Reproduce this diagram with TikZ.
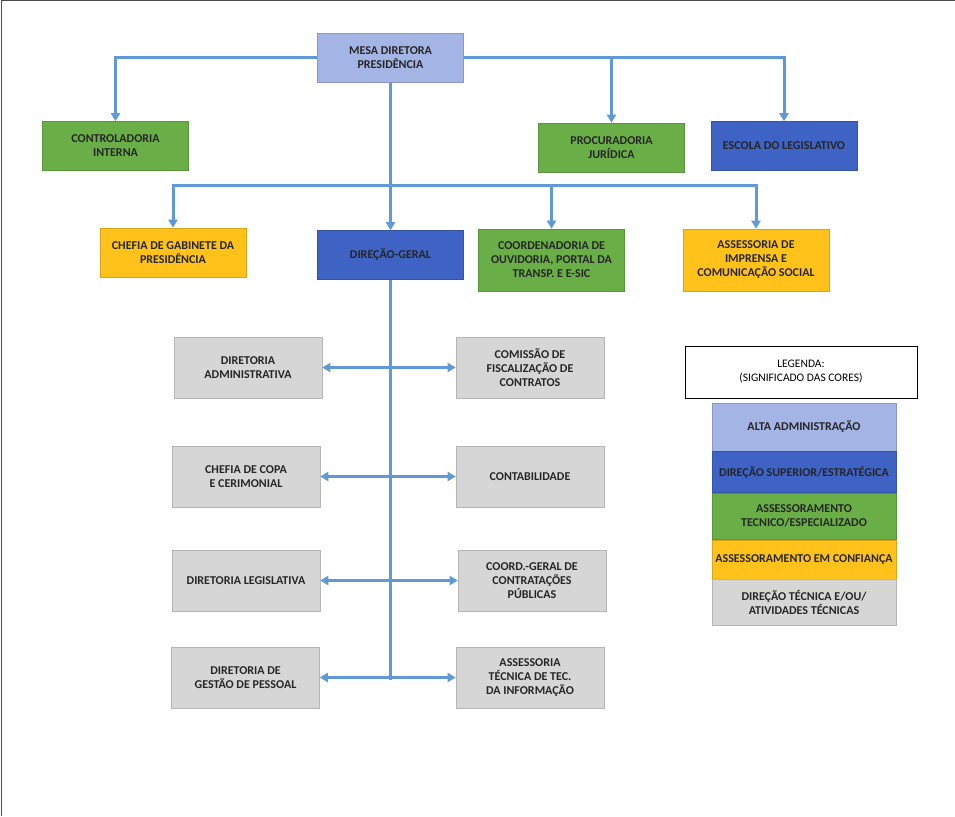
\documentclass[tikz,border=0pt]{standalone}
\usepackage{fontspec}
\setmainfont{Carlito}
\usetikzlibrary{arrows.meta}
\definecolor{alta}{HTML}{A4B4E4}
\definecolor{sup}{HTML}{3F63C4}
\definecolor{ass}{HTML}{6AAE48}
\definecolor{conf}{HTML}{FFC21A}
\definecolor{tec}{HTML}{D6D6D6}
\definecolor{ln}{HTML}{5F9AD6}
\tikzset{
 box/.style={draw=#1!85!black, fill=#1, line width=0.6pt, minimum width=146pt, minimum height=49pt, align=center, font=\fontsize{12}{14}\selectfont\bfseries, text=black!85, inner sep=1pt},
 gbox/.style={box=tec, minimum width=148pt, minimum height=61pt},
 con/.style={draw=ln, line width=3pt, -{Triangle[length=8pt,width=9pt]}},
 dcon/.style={draw=ln, line width=3pt, {Triangle[length=8pt,width=9pt]}-{Triangle[length=8pt,width=9pt]}},
 lin/.style={draw=ln, line width=3pt}
}
\begin{document}
\begin{tikzpicture}[x=1pt,y=-1pt]
\useasboundingbox[fill=white] (0,0) rectangle (955,816);
\draw[black!70, line width=1pt] (1,816) -- (1,1) -- (955,1);
\node[box=alta] (mesa) at (390.5,57.5) {MESA DIRETORA\\PRESIDÊNCIA};
\node[box=ass] (ctrl) at (115.5,146) {CONTROLADORIA\\INTERNA};
\node[box=ass] (proc) at (611.5,147.5) {PROCURADORIA\\JURÍDICA};
\node[box=sup] (esc) at (784,146) {ESCOLA DO LEGISLATIVO};
\node[box=conf] (chef) at (173,252.5) {CHEFIA DE GABINETE DA\\PRESIDÊNCIA};
\node[box=sup] (dg) at (390.5,255) {DIREÇÃO-GERAL};
\node[box=ass, minimum height=62pt] (coord) at (551.5,260) {COORDENADORIA DE\\OUVIDORIA, PORTAL DA\\TRANSP. E E-SIC};
\node[box=conf, minimum height=62pt] (imp) at (756,260) {ASSESSORIA DE\\IMPRENSA E\\COMUNICAÇÃO SOCIAL};
\node[gbox] (l1) at (248,367.5) {DIRETORIA\\ADMINISTRATIVA};
\node[gbox] (l2) at (246,476.5) {CHEFIA DE COPA\\E CERIMONIAL};
\node[gbox] (l3) at (246,580.5) {DIRETORIA LEGISLATIVA};
\node[gbox] (l4) at (245.5,677.5) {DIRETORIA DE\\GESTÃO DE PESSOAL};
\node[gbox] (r1) at (530,367.5) {COMISSÃO DE\\FISCALIZAÇÃO DE\\CONTRATOS};
\node[gbox] (r2) at (530,476.5) {CONTABILIDADE};
\node[gbox] (r3) at (532,580.5) {COORD.-GERAL DE\\CONTRATAÇÕES\\PÚBLICAS};
\node[gbox] (r4) at (530,678) {ASSESSORIA\\TÉCNICA DE TEC.\\DA INFORMAÇÃO};
% legend
\node[draw=black, fill=white, line width=0.8pt, minimum width=232pt, minimum height=52pt, align=center, font=\fontsize{11.5}{14}\selectfont] (lg) at (801,372) {LEGENDA:\\(SIGNIFICADO DAS CORES)};
\node[box=alta, minimum width=184pt, minimum height=48pt] (k1) at (804,427) {ALTA ADMINISTRAÇÃO};
\node[box=sup, minimum width=184pt, minimum height=41pt, anchor=north] (k2) at (k1.south) {DIREÇÃO SUPERIOR/ESTRATÉGICA};
\node[box=ass, minimum width=184pt, minimum height=46pt, anchor=north] (k3) at (k2.south) {ASSESSORAMENTO\\TECNICO/ESPECIALIZADO};
\node[box=conf, minimum width=184pt, minimum height=39pt, anchor=north] (k4) at (k3.south) {ASSESSORAMENTO EM CONFIANÇA};
\node[box=tec, minimum width=184pt, minimum height=46pt, anchor=north] (k5) at (k4.south) {DIREÇÃO TÉCNICA E/OU/\\ATIVIDADES TÉCNICAS};
% connectors
\coordinate (bus) at (390.5,185);
\draw[con] (mesa.west) -| (ctrl.north);
\draw[con] (mesa.east) -| (esc.north);
\draw[con] (proc.north |- mesa.east) -- (proc.north);
\draw[lin] (mesa.south) -- (bus);
\draw[con] (bus) -| (chef.north);
\draw[con] (bus) -- (dg.north);
\draw[con] (bus) -| (coord.north);
\draw[con] (bus) -| (imp.north);
\coordinate (bot) at (390.5,680);
\draw[lin] (dg.south) -- (bot);
\draw[dcon] (l1.east) -- (r1.west);
\draw[dcon] (l2.east) -- (r2.west);
\draw[dcon] (l3.east) -- (r3.west);
\draw[dcon] (l4.east) -- (r4.west |- l4.east);
\end{tikzpicture}
\end{document}
